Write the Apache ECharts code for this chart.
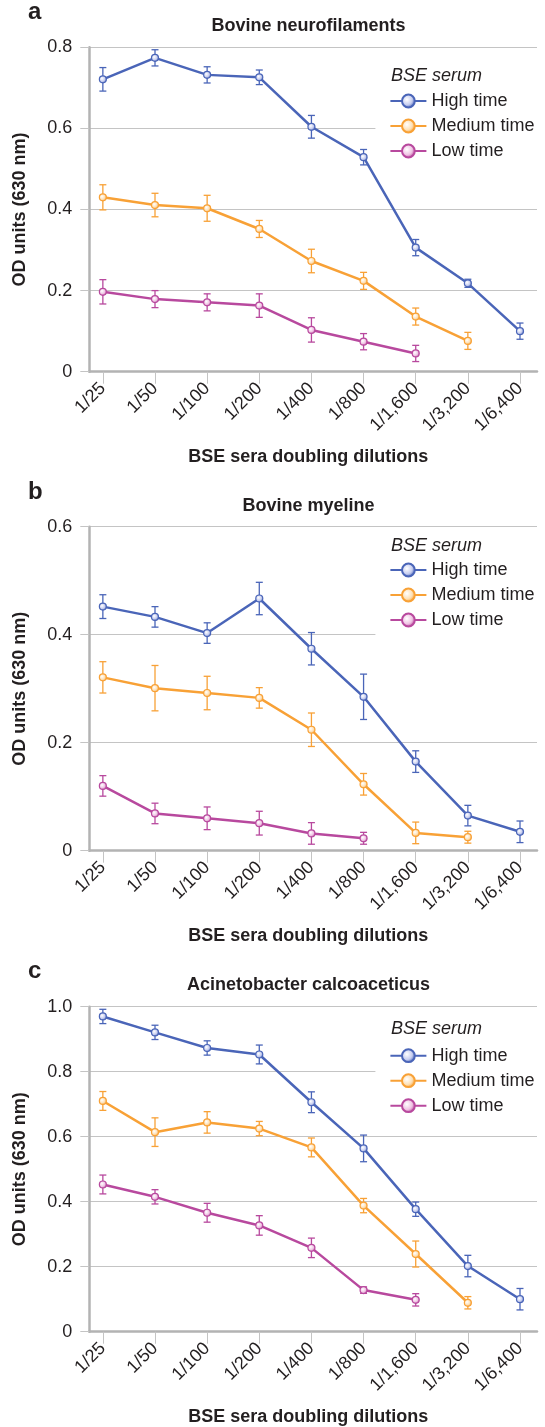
<!DOCTYPE html>
<html>
<head>
<meta charset="utf-8">
<script src="https://cdn.jsdelivr.net/npm/echarts@6/dist/echarts.min.js"></script>
<style>
html, body { margin: 0; padding: 0; background: #fff; }
#chart { width: 545px; height: 1427px; }
</style>
</head>
<body>
<div id="chart"></div>
<script>
var dilutions = ['1/25', '1/50', '1/100', '1/200', '1/400', '1/800', '1/1,600', '1/3,200', '1/6,400'];
var serumNames = ['High time', 'Medium time', 'Low time'];

// a - Bovine neurofilaments
var neuroHigh = [0.721, 0.774, 0.732, 0.726, 0.604, 0.529, 0.306, 0.218, 0.100];
var neuroHighErr = [0.029, 0.020, 0.020, 0.018, 0.028, 0.019, 0.020, 0.010, 0.020];
var neuroMed = [0.430, 0.411, 0.403, 0.352, 0.273, 0.224, 0.136, 0.076];
var neuroMedErr = [0.031, 0.029, 0.032, 0.021, 0.029, 0.021, 0.021, 0.021];
var neuroLow = [0.197, 0.179, 0.171, 0.163, 0.103, 0.074, 0.045];
var neuroLowErr = [0.030, 0.021, 0.021, 0.029, 0.030, 0.020, 0.020];

// b - Bovine myeline
var myelHigh = [0.452, 0.433, 0.403, 0.467, 0.374, 0.285, 0.165, 0.065, 0.035];
var myelHighErr = [0.022, 0.019, 0.019, 0.030, 0.030, 0.042, 0.020, 0.019, 0.020];
var myelMed = [0.321, 0.301, 0.292, 0.283, 0.224, 0.123, 0.033, 0.025];
var myelMedErr = [0.029, 0.042, 0.031, 0.019, 0.031, 0.020, 0.020, 0.011];
var myelLow = [0.120, 0.069, 0.060, 0.051, 0.032, 0.023];
var myelLowErr = [0.019, 0.019, 0.021, 0.022, 0.020, 0.011];

// c - Acinetobacter calcoaceticus
var acinHigh = [0.970, 0.921, 0.873, 0.853, 0.706, 0.564, 0.377, 0.202, 0.100];
var acinHighErr = [0.022, 0.022, 0.022, 0.029, 0.032, 0.041, 0.022, 0.033, 0.033];
var acinMed = [0.710, 0.614, 0.644, 0.625, 0.567, 0.388, 0.239, 0.089];
var acinMedErr = [0.029, 0.044, 0.033, 0.022, 0.029, 0.022, 0.040, 0.019];
var acinLow = [0.453, 0.415, 0.366, 0.327, 0.258, 0.128, 0.098];
var acinLowErr = [0.029, 0.022, 0.029, 0.030, 0.030, 0.010, 0.019];

var panelLetters = ['a', 'b', 'c'];
var panelTitles = ['Bovine neurofilaments', 'Bovine myeline', 'Acinetobacter calcoaceticus'];
var yMax = [0.8, 0.6, 1.0];

var colors = ['#4a65b8', '#f8a136', '#b8499e'];
var lightColors = ['#c6cdef', '#fde0b6', '#efc3e3'];
var fontFam = 'Liberation Sans, Arial, sans-serif';

var panels = [
	{ vals: [neuroHigh, neuroMed, neuroLow], errs: [neuroHighErr, neuroMedErr, neuroLowErr] },
	{ vals: [myelHigh, myelMed, myelLow], errs: [myelHighErr, myelMedErr, myelLowErr] },
	{ vals: [acinHigh, acinMed, acinLow], errs: [acinHighErr, acinMedErr, acinLowErr] }
];

// layout per panel
var gridTop = [47.3, 526.7, 1006.7];
var gridHeight = [324.4, 324, 325];
var legendTop = [55, 533, 1012];
var legendPadTop = [37, 28, 34.7];
var titleY = [26, 506, 985];
var letterY = [13, 493, 972];
var serumY = [76, 546, 1029];

var tickIdx = [];
for (var i = 0; i < dilutions.length; i++) tickIdx.push(i);

function renderErr(params, api) {
	var x = api.value(0);
	var lo = api.coord([x, api.value(1)]);
	var hi = api.coord([x, api.value(2)]);
	var w = 3.5;
	var st = { stroke: api.visual('color'), lineWidth: 1.3 };
	return {
		type: 'group',
		children: [
			{ type: 'line', shape: { x1: lo[0], y1: lo[1], x2: hi[0], y2: hi[1] }, style: st },
			{ type: 'line', shape: { x1: lo[0] - w, y1: lo[1], x2: lo[0] + w, y2: lo[1] }, style: st },
			{ type: 'line', shape: { x1: hi[0] - w, y1: hi[1], x2: hi[0] + w, y2: hi[1] }, style: st }
		]
	};
}

function ballFill(s) {
	return new echarts.graphic.RadialGradient(0.4, 0.4, 0.6, [
		{ offset: 0, color: '#ffffff' },
		{ offset: 0.6, color: lightColors[s] },
		{ offset: 1, color: colors[s] }
	]);
}

var grids = [], xAxes = [], yAxes = [], legends = [], series = [], graphics = [];

for (var p = 0; p < 3; p++) {
	grids.push({ left: 89.3, right: 8, top: gridTop[p], height: gridHeight[p] });

	xAxes.push({
		type: 'value', gridIndex: p, min: -0.26, max: 8.326,
		axisLine: { show: true, onZero: false, lineStyle: { color: '#b3b3b3', width: 2.5 } },
		axisTick: { show: true, customValues: tickIdx, length: 12, lineStyle: { color: '#c4c4c4', width: 1 } },
		axisLabel: {
			customValues: tickIdx, rotate: 45, margin: 14,
			fontSize: 18, color: '#231f20', fontFamily: fontFam,
			formatter: function (v) { return dilutions[Math.round(v)]; }
		},
		splitLine: { show: false },
		name: 'BSE sera doubling dilutions', nameLocation: 'middle', nameGap: 76,
		nameTextStyle: { fontSize: 18, fontWeight: 'bold', color: '#231f20', fontFamily: fontFam, padding: [0, 10, 0, 0] }
	});

	yAxes.push({
		type: 'value', gridIndex: p, min: 0, max: yMax[p], interval: 0.2,
		axisLine: { show: true, onZero: false, lineStyle: { color: '#b3b3b3', width: 2.5 } },
		axisTick: { show: true, length: 9, lineStyle: { color: '#c4c4c4', width: 1 } },
		axisLabel: {
			margin: 17, fontSize: 18, color: '#231f20', fontFamily: fontFam,
			formatter: function (v) { return v === 0 ? '0' : v.toFixed(1); }
		},
		splitLine: { show: true, lineStyle: { color: '#c4c4c4', width: 1 } },
		name: 'OD units (630 nm)', nameLocation: 'middle', nameGap: 60,
		nameTextStyle: { fontSize: 18, fontWeight: 'bold', color: '#231f20', fontFamily: fontFam }
	});

	legends.push({
		data: serumNames, orient: 'vertical', left: 375.4, top: legendTop[p],
		padding: [legendPadTop[p], 10, 6, 14], itemGap: 7,
		itemWidth: 36, itemHeight: 16, backgroundColor: '#ffffff',
		selectedMode: false,
		textStyle: { fontSize: 18, lineHeight: 18, color: '#231f20', fontFamily: fontFam }
	});

	for (var s = 0; s < 3; s++) {
		var vals = panels[p].vals[s], errs = panels[p].errs[s];
		var pts = [], bars = [];
		for (var k = 0; k < vals.length; k++) {
			pts.push([k, vals[k]]);
			bars.push([k, vals[k] - errs[k], vals[k] + errs[k]]);
		}
		series.push({
			name: serumNames[s] + ' error', type: 'custom', xAxisIndex: p, yAxisIndex: p,
			renderItem: renderErr, data: bars, z: 2,
			itemStyle: { color: colors[s] }, silent: true
		});
		series.push({
			name: serumNames[s], type: 'line', xAxisIndex: p, yAxisIndex: p,
			data: pts, z: 3, symbol: 'circle', symbolSize: 7, showSymbol: true,
			lineStyle: { color: colors[s], width: 2.5 },
			itemStyle: { color: ballFill(s), borderColor: colors[s], borderWidth: 1.2 },
			animation: false
		});
	}

	graphics.push({
		type: 'text', left: 28, top: letterY[p] - 13, z: 100,
		style: { text: panelLetters[p], fontSize: 24, fontWeight: 'bold', fill: '#231f20', fontFamily: fontFam }
	});
	graphics.push({
		type: 'text', x: 308.5, y: titleY[p], z: 100,
		style: { text: panelTitles[p], fontSize: 18, fontWeight: 'bold', fill: '#231f20', fontFamily: fontFam, align: 'center', verticalAlign: 'middle' }
	});
	graphics.push({
		type: 'text', x: 391, y: serumY[p], z: 100,
		style: { text: 'BSE serum', fontSize: 18, fontStyle: 'italic', fill: '#231f20', fontFamily: fontFam, align: 'left', verticalAlign: 'middle' }
	});
}

var chart = echarts.init(document.getElementById('chart'));
chart.setOption({
	animation: false,
	backgroundColor: '#ffffff',
	grid: grids,
	xAxis: xAxes,
	yAxis: yAxes,
	legend: legends,
	series: series,
	graphic: graphics
});
</script>
</body>
</html>
